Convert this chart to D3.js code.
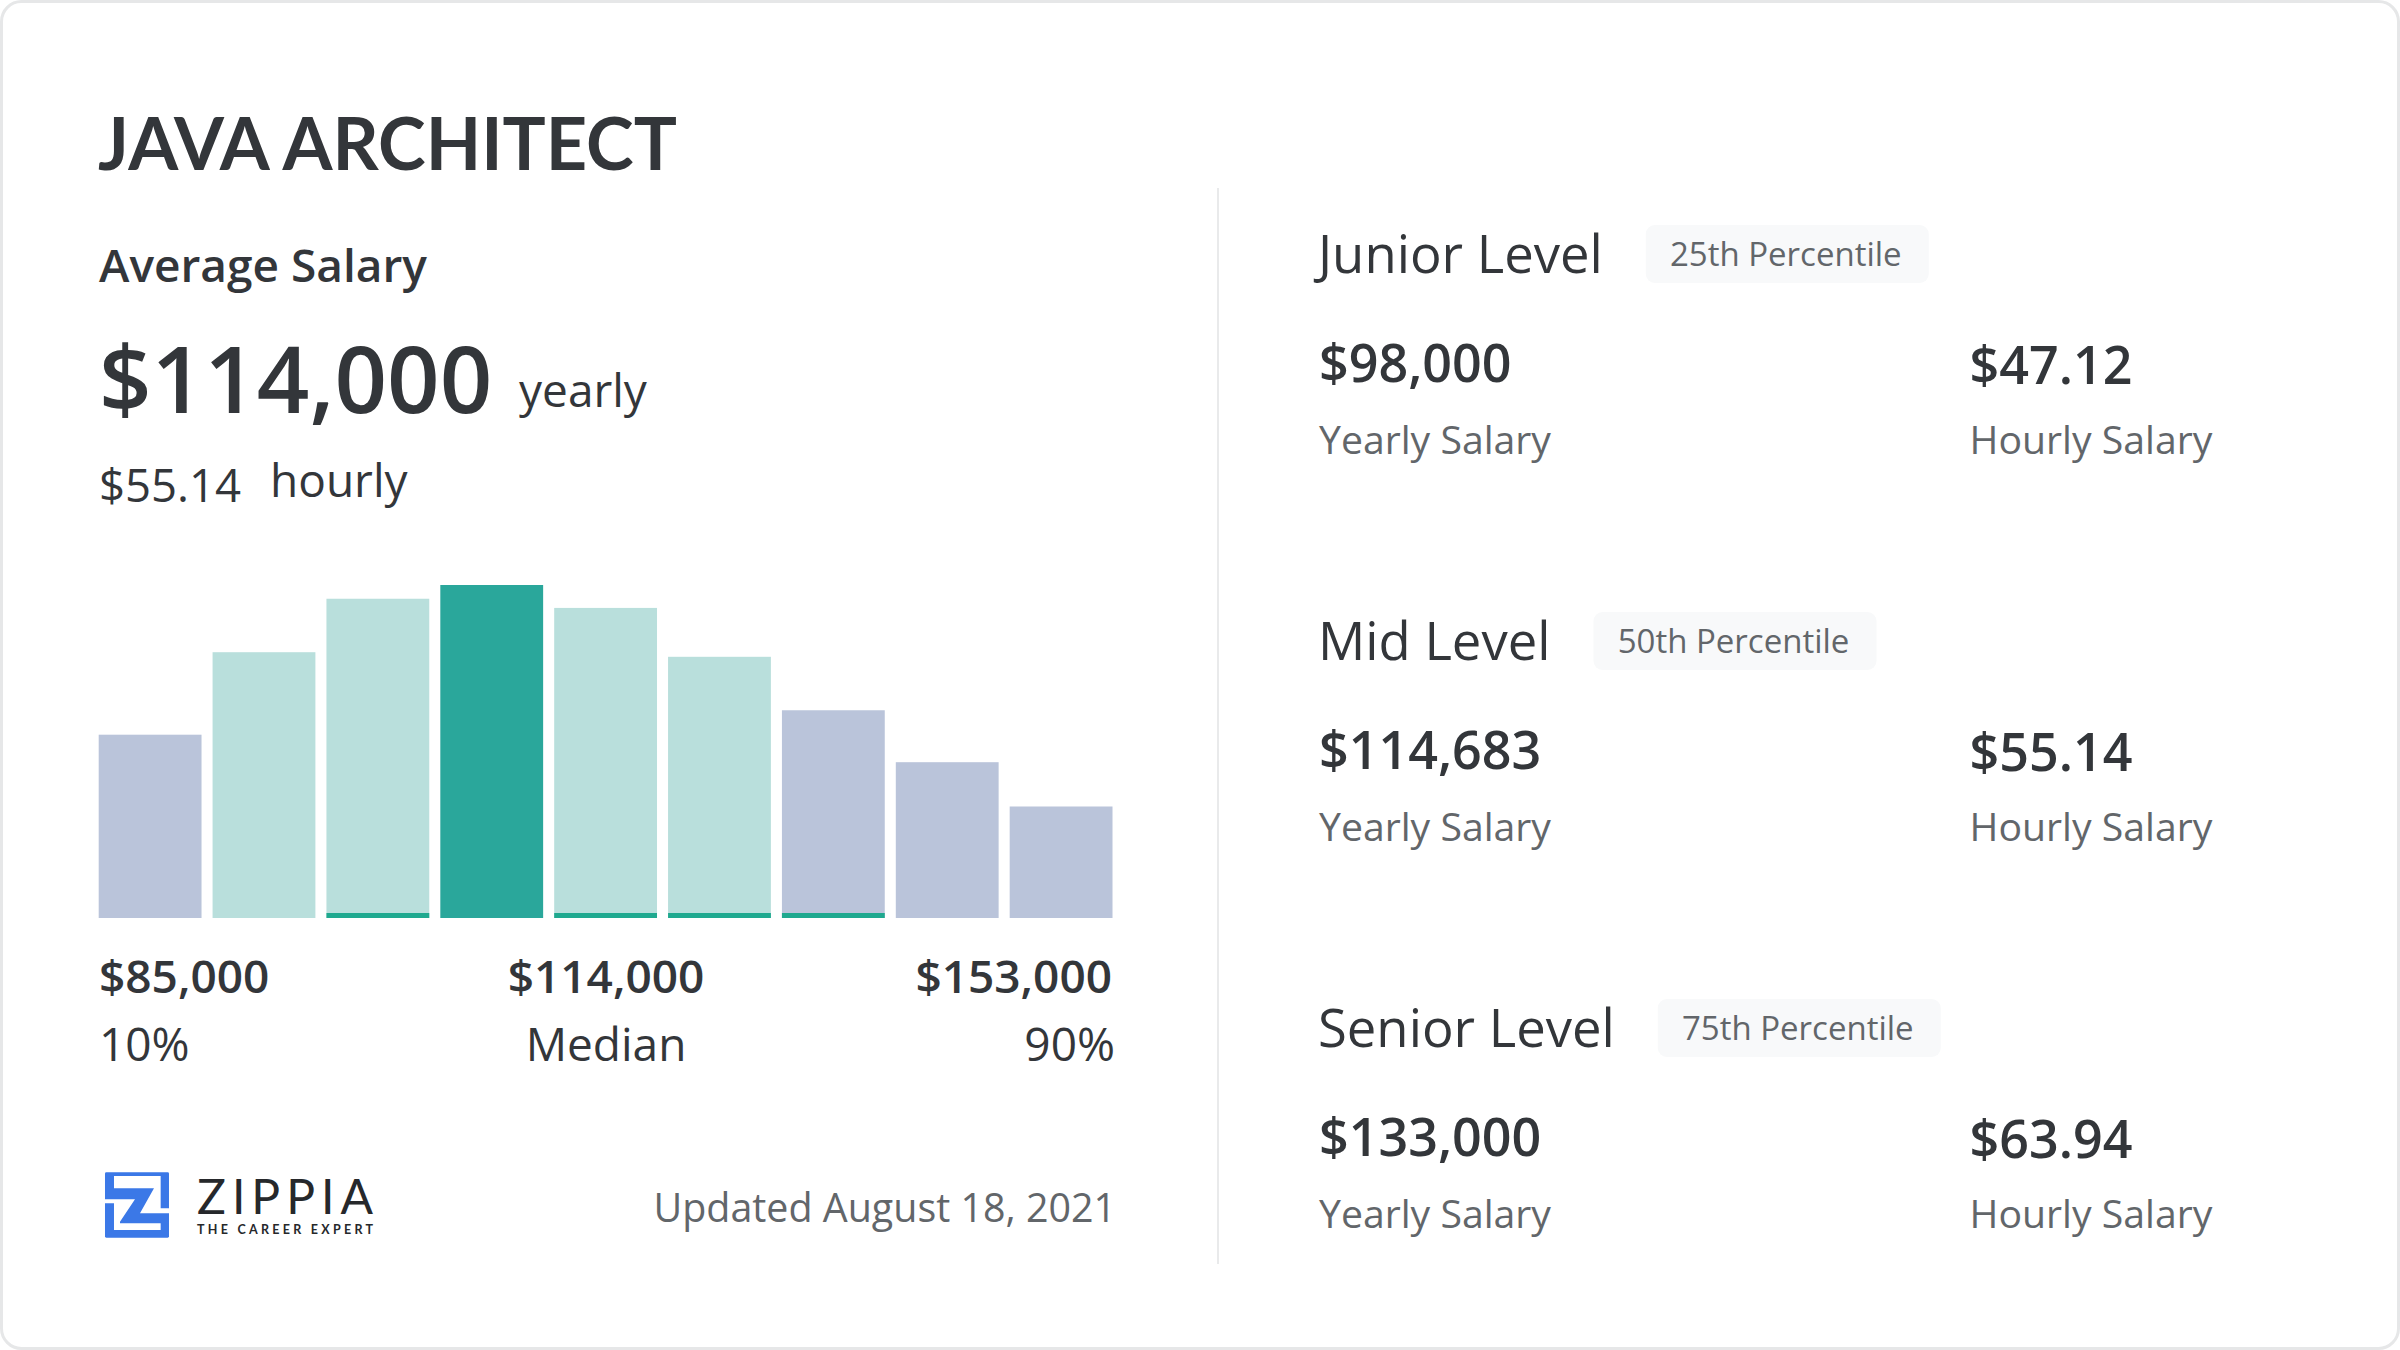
<!DOCTYPE html>
<html>
<head>
<meta charset="utf-8">
<script src="https://cdn.jsdelivr.net/npm/d3@7"></script>
<style>
  html, body { margin: 0; padding: 0; background: #fff; }
  text { font-family: "Open Sans", sans-serif; }
</style>
</head>
<body>
<div id="chart-container"></div>
<script>
const barBins = ["b1", "b2", "b3", "b4", "b5", "b6", "b7", "b8", "b9"];
const barValues = [120, 174, 209, 218, 203, 171, 136, 102, 73];
const barKinds = ["outer", "inner", "inner", "median", "inner", "inner", "outer", "outer", "outer"];
const stripBins = ["b3", "b5", "b6", "b7"];

const tickAmounts = ["$85,000", "$114,000", "$153,000"];
const tickNames = ["10%", "Median", "90%"];

const levelNames = ["Junior Level", "Mid Level", "Senior Level"];
const levelPercentiles = ["25th Percentile", "50th Percentile", "75th Percentile"];
const levelYearly = ["$98,000", "$114,683", "$133,000"];
const levelHourly = ["$47.12", "$55.14", "$63.94"];

const colors = { outer: "#bac4da", inner: "#b9dfdc", median: "#2aa79b", strip: "#1fa98f" };
const dark = "#33363a";
const mid = "#62666a";

const svg = d3.select("#chart-container")
  .append("svg")
  .attr("width", 2400)
  .attr("height", 1350)
  .style("display", "block");

svg.append("rect")
  .attr("x", 1.5).attr("y", 1.5)
  .attr("width", 2397).attr("height", 1347)
  .attr("rx", 20)
  .attr("fill", "#fff")
  .attr("stroke", "#e6e7e8")
  .attr("stroke-width", 3);

function label(txt, x, y, size, weight, color, anchor) {
  return svg.append("text")
    .text(txt)
    .attr("x", x).attr("y", y)
    .attr("font-size", size)
    .attr("font-weight", weight)
    .attr("fill", color)
    .attr("text-anchor", anchor || "start");
}

// left column
label("JAVA ARCHITECT", 98, 170, 72, 700, dark).style("font-family", "Lato");
label("Average Salary", 99, 282, 46, 600, dark);
label("$114,000", 99, 413, 92, 600, dark);
label("yearly", 519, 407, 46, 400, dark);
label("$55.14", 99, 502, 45.5, 400, dark);
label("hourly", 270, 497, 46, 400, dark);

// histogram
const x = d3.scaleBand()
  .domain(barBins)
  .range([98.7, 1112.5])
  .paddingInner(0.097);

const y = d3.scaleLinear()
  .domain([0, 218])
  .range([918, 585]);

svg.selectAll(".bar")
  .data(barBins)
  .join("rect")
  .attr("class", "bar")
  .attr("x", d => x(d))
  .attr("y", (d, i) => y(barValues[i]))
  .attr("width", x.bandwidth())
  .attr("height", (d, i) => y(0) - y(barValues[i]))
  .attr("fill", (d, i) => colors[barKinds[i]]);

svg.selectAll(".strip")
  .data(stripBins)
  .join("rect")
  .attr("class", "strip")
  .attr("x", d => x(d))
  .attr("y", y(0) - 5)
  .attr("width", x.bandwidth())
  .attr("height", 5)
  .attr("fill", colors.strip);

const tickX = [99, 606, 1112];
const tickAnchor = ["start", "middle", "end"];
tickAmounts.forEach((t, i) => {
  label(t, tickX[i], 993, 46, 600, dark, tickAnchor[i]);
  label(tickNames[i], tickX[i] + (i === 2 ? 3 : 0), 1061, 46, 400, dark, tickAnchor[i]);
});

// logo
const logo = svg.append("g")
  .attr("transform", "translate(60,1140) scale(0.3333)");
logo.append("rect")
  .attr("x", 135).attr("y", 97)
  .attr("width", 192).attr("height", 196)
  .attr("rx", 4)
  .attr("fill", "#3b78e7");
logo.append("path")
  .attr("d", "M162,108H302V205H327V220H240L282,145H162Z")
  .attr("fill", "#fff");
logo.append("path")
  .attr("d", "M135,178H225L180,245V250H302V270H162V190H135Z")
  .attr("fill", "#fff");

label("ZIPPIA", 197, 1214, 48, 400, "#26282b")
  .style("font-family", "Lato")
  .attr("textLength", 176)
  .attr("lengthAdjust", "spacing");
label("THE CAREER EXPERT", 197, 1234, 12.5, 700, "#26282b")
  .style("font-family", "Lato")
  .attr("textLength", 176)
  .attr("lengthAdjust", "spacing");

label("Updated August 18, 2021", 1116, 1222, 39.4, 400, mid, "end");

// divider
svg.append("line")
  .attr("x1", 1218).attr("x2", 1218)
  .attr("y1", 188).attr("y2", 1264)
  .attr("stroke", "#e9eaeb")
  .attr("stroke-width", 2);

// right column
levelNames.forEach((name, i) => {
  const top = i * 387;
  const head = label(name, 1318, 273 + top, 52.6, 400, dark);
  const pillX = 1318 + head.node().getComputedTextLength() + 43;
  svg.append("rect")
    .attr("x", pillX).attr("y", 225 + top)
    .attr("width", 283).attr("height", 58)
    .attr("rx", 9)
    .attr("fill", "#f8f9fa");
  label(levelPercentiles[i], pillX + 140, 266 + top, 33, 400, mid, "middle");
  label(levelYearly[i], 1319, 382 + top, 52, 600, dark);
  label(levelHourly[i], 1969.5, 384 + top, 52, 600, dark);
  label("Yearly Salary", 1319, 454 + top, 39.2, 400, mid);
  label("Hourly Salary", 1969.5, 454 + top, 39.2, 400, mid);
});
</script>
</body>
</html>
